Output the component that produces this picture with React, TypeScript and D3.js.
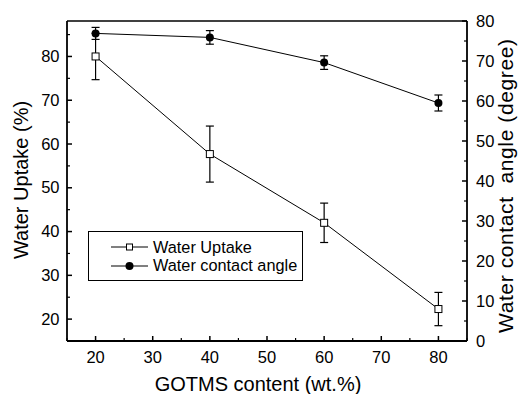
import React from "react";
import * as d3 from "d3";

const xValues = [20, 40, 60, 80];
const uptake = [80.0, 57.7, 42.0, 22.3];
const uptakeErr = [5.3, 6.4, 4.5, 3.8];
const angle = [76.9, 75.9, 69.6, 59.5];
const angleErr = [1.5, 1.7, 1.7, 2.0];
const xTicks = [20, 30, 40, 50, 60, 70, 80];
const yLeftTicks = [20, 30, 40, 50, 60, 70, 80];
const yRightTicks = [0, 10, 20, 30, 40, 50, 60, 70, 80];
const legendLabels = ["Water Uptake", "Water contact angle"];

const W = 520, H = 394;
const L = 67, R = 467, T = 21, B = 341;
const FONT = "Arial, 'Liberation Sans', sans-serif";

export default function App() {
  const x = d3.scaleLinear().domain([15, 85]).range([L, R]);
  const yL = d3.scaleLinear().domain([15, 88.1]).range([B, T]);
  const yR = d3.scaleLinear().domain([0, 80]).range([B, T]);
  const lineU = d3.line<number>().x((_, i) => x(xValues[i])).y((d) => yL(d));
  const lineA = d3.line<number>().x((_, i) => x(xValues[i])).y((d) => yR(d));
  const xMinor = d3.range(15, 86, 5).filter((v) => v % 10 !== 0);
  const yLMinor = d3.range(15, 88, 5).filter((v) => v % 10 !== 0);
  const yRMinor = d3.range(5, 80, 10);
  const cap = 4;
  const lg = { x: 88.5, y: 231.5, w: 214, h: 49 };
  return (
    <svg width={W} height={H} style={{ position: "absolute", left: 0, top: 0 }}>
      <rect width={W} height={H} fill="#fff" />
      {/* frame */}
      <line x1={L} x2={R} y1={T} y2={T} stroke="#000" strokeWidth={1.6} />
      <line x1={L} x2={R} y1={B} y2={B} stroke="#000" strokeWidth={1.8} />
      <line x1={L} x2={L} y1={T} y2={B} stroke="#000" strokeWidth={1.8} />
      <line x1={R} x2={R} y1={T} y2={B} stroke="#000" strokeWidth={1.8} />
      {/* x ticks */}
      {xTicks.map((t) => (
        <g key={"x" + t}>
          <line x1={x(t)} x2={x(t)} y1={B} y2={B - 5} stroke="#000" strokeWidth={1.5} />
          <text x={x(t)} y={B + 22} textAnchor="middle" fontFamily={FONT} fontSize={16.5}>{t}</text>
        </g>
      ))}
      {xMinor.map((t) => (
        <line key={"xm" + t} x1={x(t)} x2={x(t)} y1={B} y2={B - 3} stroke="#000" strokeWidth={1.2} />
      ))}
      {/* left y ticks */}
      {yLeftTicks.map((t) => (
        <g key={"yl" + t}>
          <line x1={L} x2={L + 5} y1={yL(t)} y2={yL(t)} stroke="#000" strokeWidth={1.5} />
          <text x={L - 7.5} y={yL(t) + 5.5} textAnchor="end" fontFamily={FONT} fontSize={16.5}>{t}</text>
        </g>
      ))}
      {yLMinor.map((t) => (
        <line key={"ylm" + t} x1={L} x2={L + 3} y1={yL(t)} y2={yL(t)} stroke="#000" strokeWidth={1.2} />
      ))}
      {/* right y ticks */}
      {yRightTicks.map((t) => (
        <g key={"yr" + t}>
          <line x1={R} x2={R - 5} y1={yR(t)} y2={yR(t)} stroke="#000" strokeWidth={1.5} />
          <text x={R + 9} y={yR(t) + 5.5} textAnchor="start" fontFamily={FONT} fontSize={16.5}>{t}</text>
        </g>
      ))}
      {yRMinor.map((t) => (
        <line key={"yrm" + t} x1={R} x2={R - 3} y1={yR(t)} y2={yR(t)} stroke="#000" strokeWidth={1.2} />
      ))}
      {/* axis titles */}
      <text x={258} y={391} textAnchor="middle" fontFamily={FONT} fontSize={20}>GOTMS content (wt.%)</text>
      <text transform={`translate(27.5,180) rotate(-90)`} textAnchor="middle" fontFamily={FONT} fontSize={20}>Water Uptake (%)</text>
      <text transform={`translate(513,186) rotate(-90)`} textAnchor="middle" fontFamily={FONT} fontSize={21} textLength={294} lengthAdjust="spacing" style={{ whiteSpace: "pre" }}>{"Water contact  angle (degree)"}</text>
      {/* uptake series */}
      <path d={lineU(uptake) || ""} fill="none" stroke="#000" strokeWidth={1} />
      {uptake.map((v, i) => {
        const cx = x(xValues[i]);
        const y1 = yL(v + uptakeErr[i]), y2 = yL(v - uptakeErr[i]);
        return (
          <g key={"u" + i}>
            <line x1={cx} x2={cx} y1={y1} y2={y2} stroke="#000" strokeWidth={1.2} />
            <line x1={cx - cap} x2={cx + cap} y1={y1} y2={y1} stroke="#000" strokeWidth={1.2} />
            <line x1={cx - cap} x2={cx + cap} y1={y2} y2={y2} stroke="#000" strokeWidth={1.2} />
            <rect x={cx - 3.5} y={yL(v) - 3.5} width={7} height={7} fill="#fff" stroke="#000" strokeWidth={1} />
          </g>
        );
      })}
      {/* angle series */}
      <path d={lineA(angle) || ""} fill="none" stroke="#000" strokeWidth={1} />
      {angle.map((v, i) => {
        const cx = x(xValues[i]);
        const y1 = yR(v + angleErr[i]), y2 = yR(v - angleErr[i]);
        return (
          <g key={"a" + i}>
            <line x1={cx} x2={cx} y1={y1} y2={y2} stroke="#000" strokeWidth={1.2} />
            <line x1={cx - cap} x2={cx + cap} y1={y1} y2={y1} stroke="#000" strokeWidth={1.2} />
            <line x1={cx - cap} x2={cx + cap} y1={y2} y2={y2} stroke="#000" strokeWidth={1.2} />
            <circle cx={cx} cy={yR(v)} r={4} fill="#000" />
          </g>
        );
      })}
      {/* legend */}
      <rect x={lg.x} y={lg.y} width={lg.w} height={lg.h} fill="#fff" stroke="#000" strokeWidth={1} />
      <line x1={111} x2={148} y1={247} y2={247} stroke="#000" strokeWidth={1} />
      <rect x={129.5 - 3} y={247 - 3} width={6} height={6} fill="#fff" stroke="#000" strokeWidth={1} />
      <text x={153} y={252.5} fontFamily={FONT} fontSize={16.3}>{legendLabels[0]}</text>
      <line x1={111} x2={148} y1={266} y2={266} stroke="#000" strokeWidth={1} />
      <circle cx={129.5} cy={266} r={4} fill="#000" />
      <text x={153} y={271} fontFamily={FONT} fontSize={16.3}>{legendLabels[1]}</text>
    </svg>
  );
}
